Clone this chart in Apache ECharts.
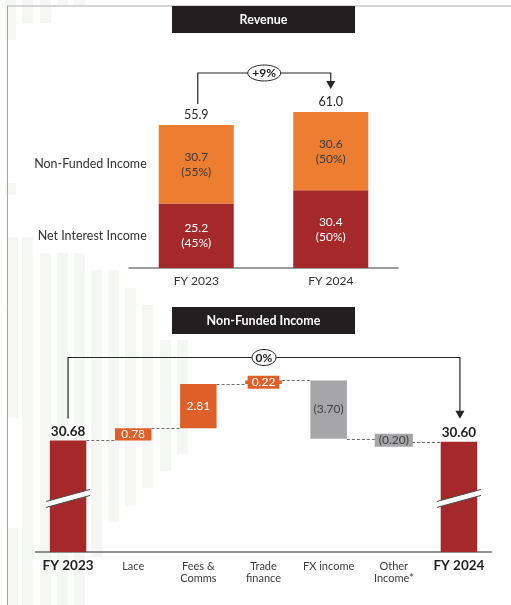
<!DOCTYPE html>
<html>
<head>
<meta charset="utf-8">
<script src="https://cdn.jsdelivr.net/npm/echarts@6/dist/echarts.min.js"></script>
<style>
  html, body { margin: 0; padding: 0; background: #ffffff; }
  #chart { width: 511px; height: 605px; }
</style>
</head>
<body>
<div id="chart"></div>
<script>
// Revenue split
const revYears = ['FY 2023', 'FY 2024'];
const netInterest = [25.2, 30.4];
const nonFunded = [30.7, 30.6];

// Non-funded income bridge
const nfiCats = ['FY 2023', 'Lace', 'Fees &\nComms', 'Trade\nfinance', 'FX income', 'Other\nIncome*', 'FY 2024'];
const nfiValues = [30.68, 0.78, 2.81, 0.22, -3.70, -0.20, 30.60];

const FONT = 'Lato, "Open Sans", sans-serif';
const RED = '#A5292A';
const ORANGE = '#ED7D31';
const UP = '#DF5F28';
const DOWN = '#A6A6A8';
const NFI_MIN = 23.6;

const revTotals = netInterest.map((v, i) => +(v + nonFunded[i]).toFixed(1));
const pct = (a, b) => Math.round(a / b * 100);

// bridge items: [index, low, high, value, running level, isTotal]
const bridge = [];
let run = 0;
nfiValues.forEach((v, i) => {
  const total = i === 0 || i === nfiValues.length - 1;
  let lo, hi;
  if (total) { lo = NFI_MIN; hi = v; run = v; }
  else { lo = Math.min(run, run + v); hi = Math.max(run, run + v); run = +(run + v).toFixed(2); }
  bridge.push([i, lo, hi, v, run, total ? 1 : 0]);
});

const chart = echarts.init(document.getElementById('chart'), null, { renderer: 'canvas' });

function renderBridge(params, api) {
  const i = api.value(0), lo = api.value(1), hi = api.value(2), v = api.value(3);
  const lvl = api.value(4), tot = api.value(5) === 1;
  const band = api.size([1, 0])[0];
  const bw = band * 0.56;
  const pLo = api.coord([i, lo]), pHi = api.coord([i, hi]);
  const cx = pLo[0], x = cx - bw / 2;
  const h = pLo[1] - pHi[1];
  const fill = tot ? RED : (v >= 0 ? UP : DOWN);
  const kids = [{ type: 'rect', shape: { x: x, y: pHi[1], width: bw, height: h }, style: { fill: fill } }];

  if (i < nfiValues.length - 1) {
    const y = Math.round(api.coord([i, lvl])[1]) + 0.5;
    kids.push({ type: 'line', shape: { x1: x + bw, y1: y, x2: x + band, y2: y },
      style: { stroke: '#6f6f6f', lineWidth: 1, lineDash: [3, 2] } });
  }

  if (tot) {
    const yc = api.coord([i, 27.0])[1];
    const l = cx - 22, r = cx + 22;
    kids.push({ type: 'polygon', shape: { points: [[l, yc + 3], [r, yc - 9], [r, yc - 3], [l, yc + 9]] },
      style: { fill: '#ffffff' } });
    kids.push({ type: 'line', shape: { x1: l, y1: yc + 3, x2: r, y2: yc - 9 }, style: { stroke: '#4a4a4a', lineWidth: 1 } });
    kids.push({ type: 'line', shape: { x1: l, y1: yc + 9, x2: r, y2: yc - 3 }, style: { stroke: '#4a4a4a', lineWidth: 1 } });
    kids.push({ type: 'text', x: cx, y: pHi[1] - 9,
      style: { text: v.toFixed(2), fill: '#1f1f1f', font: 'bold 13.5px ' + FONT, align: 'center', verticalAlign: 'middle' } });
  } else {
    const txt = v < 0 ? '(' + Math.abs(v).toFixed(2) + ')' : v.toFixed(2);
    const col = v < 0 ? '#404040' : '#ffffff';
    const ym = pHi[1] + h / 2;
    if (h >= 11) {
      kids.push({ type: 'text', x: cx, y: ym,
        style: { text: txt, fill: col, font: '12px ' + FONT, align: 'center', verticalAlign: 'middle' } });
    } else {
      kids.push({ type: 'text', x: cx, y: ym,
        style: { text: txt, fill: col, font: '12px ' + FONT, align: 'center', verticalAlign: 'middle',
          backgroundColor: fill, padding: [1, 4, 0, 4] } });
    }
  }
  return { type: 'group', children: kids };
}

const option = {
  animation: false,
  backgroundColor: '#ffffff',
  textStyle: { fontFamily: FONT },
  grid: [
    { left: 129, width: 269, top: 89, height: 179 },
    { left: 35.5, width: 456, top: 325.2, height: 226.8 }
  ],
  xAxis: [
    {
      type: 'category', gridIndex: 0, data: revYears,
      axisLine: { lineStyle: { color: '#7f7f7f', width: 1.5 } },
      axisTick: { show: false },
      axisLabel: { color: '#333333', fontSize: 12, margin: 7, fontFamily: FONT }
    },
    {
      type: 'category', gridIndex: 1, data: nfiCats,
      axisLine: { lineStyle: { color: '#6f6f6f', width: 1.5 } },
      axisTick: { show: false },
      axisLabel: {
        color: '#404040', fontSize: 11, margin: 8, lineHeight: 12, fontFamily: FONT, interval: 0,
        formatter: (val, idx) => (idx === 0 || idx === nfiCats.length - 1) ? '{b|' + val + '}' : val,
        rich: { b: { fontSize: 13.5, fontWeight: 'bold', color: '#1f1f1f', fontFamily: FONT } }
      }
    }
  ],
  yAxis: [
    { type: 'value', gridIndex: 0, min: 0, max: 70, show: false },
    { type: 'value', gridIndex: 1, min: NFI_MIN, max: 38, show: false }
  ],
  series: [
    {
      name: 'Net Interest Income', type: 'bar', stack: 'rev', xAxisIndex: 0, yAxisIndex: 0,
      barWidth: 75, data: netInterest, itemStyle: { color: RED },
      label: {
        show: true, position: 'inside', color: '#ffffff', fontSize: 12, lineHeight: 15, fontFamily: FONT,
        formatter: p => p.value.toFixed(1) + '\n(' + pct(p.value, revTotals[p.dataIndex]) + '%)'
      }
    },
    {
      name: 'Non-Funded Income', type: 'bar', stack: 'rev', xAxisIndex: 0, yAxisIndex: 0,
      barWidth: 75, data: nonFunded, itemStyle: { color: ORANGE },
      label: {
        show: true, position: 'inside', color: '#3a3a3a', fontSize: 12, lineHeight: 15, fontFamily: FONT,
        formatter: p => p.value.toFixed(1) + '\n(' + pct(p.value, revTotals[p.dataIndex]) + '%)'
      }
    },
    {
      name: 'Total', type: 'bar', stack: 'rev', xAxisIndex: 0, yAxisIndex: 0,
      barWidth: 75, data: revTotals.map(() => 0), itemStyle: { color: 'transparent' },
      label: {
        show: true, position: 'top', distance: 4, color: '#262626', fontSize: 12.5, fontFamily: FONT,
        formatter: p => revTotals[p.dataIndex].toFixed(1)
      }
    },
    {
      name: 'Bridge', type: 'custom', xAxisIndex: 1, yAxisIndex: 1,
      renderItem: renderBridge, data: bridge, clip: false
    }
  ]
};
chart.setOption(option);

// decorative background stripes and frame
const stripes = [
  [5, 0, 40], [22, 0, 23], [40, 0, 23], [57, 0, 5], [74, 0, 5],
  [5, 183, 195],
  [7, 237, 418], [7, 528, 605], [22, 237, 605], [40, 253, 605], [57, 253, 605], [74, 253, 605],
  [91, 270, 557], [108, 270, 522], [125, 288, 506], [142, 305, 488], [160, 340, 471], [177, 340, 454]
];
const graphics = stripes.map(s => ({
  type: 'rect', z: -10, silent: true,
  shape: { x: s[0], y: s[1], width: 11, height: s[2] - s[1] },
  style: { fill: '#f5f7f5' }
}));
graphics.push({ type: 'line', z: -5, shape: { x1: 7, y1: 6, x2: 511, y2: 6 }, style: { stroke: '#c8c8c8', lineWidth: 1.5 } });
graphics.push({ type: 'line', z: -5, shape: { x1: 7.5, y1: 6, x2: 7.5, y2: 605 }, style: { stroke: '#a8a8a8', lineWidth: 1 } });

// section headers
function header(title, y) {
  graphics.push({ type: 'rect', z: 50, shape: { x: 172, y: y, width: 183, height: 27 }, style: { fill: '#231F20' } });
  graphics.push({ type: 'text', z: 51, x: 263.5, y: y + 13.5,
    style: { text: title, fill: '#ffffff', font: 'bold 12.5px ' + FONT, align: 'center', verticalAlign: 'middle' } });
}
header('Revenue', 6);
header('Non-Funded Income', 307);

// row labels beside the first revenue column
const p0 = chart.convertToPixel({ xAxisIndex: 0, yAxisIndex: 0 }, [0, netInterest[0] / 2]);
const p1 = chart.convertToPixel({ xAxisIndex: 0, yAxisIndex: 0 }, [0, netInterest[0] + nonFunded[0] / 2]);
[[p1, 'Non-Funded Income'], [p0, 'Net Interest Income']].forEach(([p, t]) => {
  graphics.push({ type: 'text', z: 50, x: p[0] - 37.5 - 12, y: p[1],
    style: { text: t, fill: '#333333', font: '12.5px ' + FONT, align: 'right', verticalAlign: 'middle' } });
});

// growth brackets
function bracket(xl, yl, xr, yr, yTop, label, rx) {
  graphics.push({ type: 'polyline', z: 60,
    shape: { points: [[xl, yl], [xl, yTop], [xr, yTop], [xr, yr - 7]] },
    style: { stroke: '#262626', lineWidth: 1.2, fill: null } });
  graphics.push({ type: 'polygon', z: 60,
    shape: { points: [[xr - 4.5, yr - 8], [xr + 4.5, yr - 8], [xr, yr]] }, style: { fill: '#262626' } });
  const cx = (xl + xr) / 2;
  graphics.push({ type: 'ellipse', z: 61, shape: { cx: cx, cy: yTop, rx: rx, ry: 8 },
    style: { fill: '#ffffff', stroke: '#262626', lineWidth: 1 } });
  graphics.push({ type: 'text', z: 62, x: cx, y: yTop + 0.5,
    style: { text: label, fill: '#1f1f1f', font: 'bold 12px ' + FONT, align: 'center', verticalAlign: 'middle' } });
}
const fmtPct = (a, b) => {
  const r = Math.round((b - a) / a * 100);
  return (r > 0 ? '+' : '') + (r === 0 ? 0 : r) + '%';
};
const ra = chart.convertToPixel({ xAxisIndex: 0, yAxisIndex: 0 }, [0, revTotals[0]]);
const rb = chart.convertToPixel({ xAxisIndex: 0, yAxisIndex: 0 }, [1, revTotals[1]]);
bracket(ra[0] + 1.5, ra[1] - 21, rb[0], rb[1] - 23, 73, fmtPct(revTotals[0], revTotals[1]), 16.5);

const last = nfiValues.length - 1;
const na = chart.convertToPixel({ xAxisIndex: 1, yAxisIndex: 1 }, [0, nfiValues[0]]);
const nb = chart.convertToPixel({ xAxisIndex: 1, yAxisIndex: 1 }, [last, nfiValues[last]]);
bracket(na[0], na[1] - 22, nb[0] + 1, nb[1] - 23, 357.5, fmtPct(nfiValues[0], nfiValues[last]), 12);

chart.setOption({ graphic: graphics });
</script>
</body>
</html>
